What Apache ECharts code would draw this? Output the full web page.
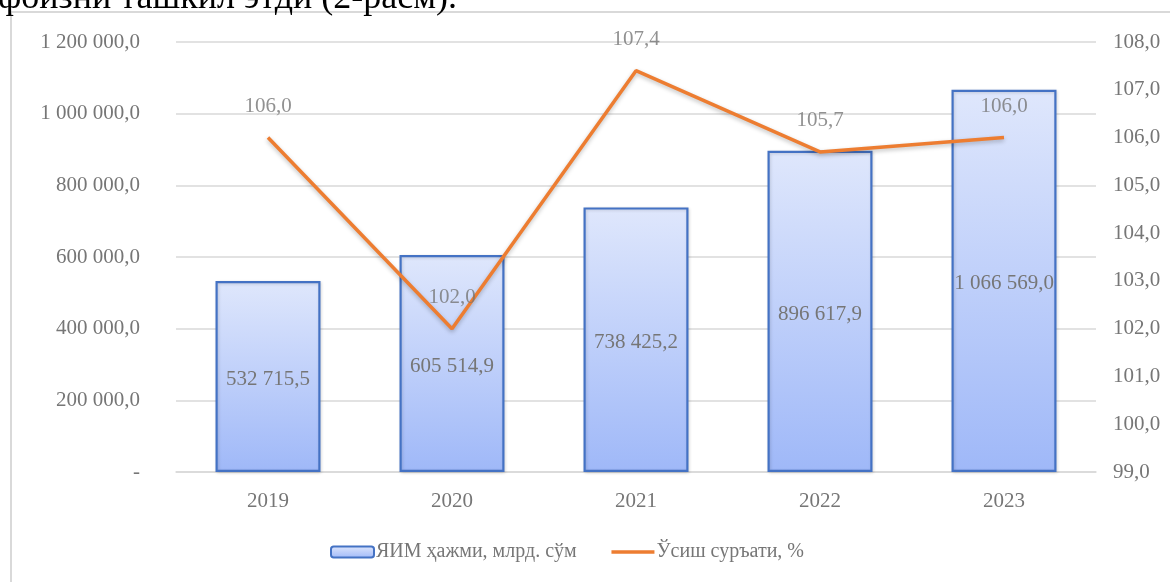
<!DOCTYPE html>
<html>
<head>
<meta charset="utf-8">
<script src="https://cdn.jsdelivr.net/npm/echarts@6/dist/echarts.min.js"></script>
<style>
html,body{margin:0;padding:0;background:#fff;}
#c{width:1170px;height:582px;}
</style>
</head>
<body>
<div id="c"></div>
<script>
const categories = ['2019', '2020', '2021', '2022', '2023'];
const gdpValues = [532715.5, 605514.9, 738425.2, 896617.9, 1066569.0];
const growthValues = [106.0, 102.0, 107.4, 105.7, 106.0];
const gdpName = 'ЯИМ ҳажми, млрд. сўм';
const growthName = 'Ўсиш суръати, %';
const captionText = 'фойзни ташкил этди (2-расм).';

const FONT = '"Liberation Serif", "Times New Roman", serif';
const GRAY = '#767676';

function fmt(v) {
  const s = Number(v).toFixed(1);
  const parts = s.split('.');
  const intPart = parts[0].replace(/\B(?=(\d{3})+(?!\d))/g, ' ');
  return intPart + ',' + parts[1];
}

const chart = echarts.init(document.getElementById('c'), null, {renderer: 'canvas'});
const barGradient = new echarts.graphic.LinearGradient(0, 0, 0, 1, [
  {offset: 0, color: '#dfe7fc'},
  {offset: 1, color: '#9fb8f8'}
]);

chart.setOption({
  animation: false,
  backgroundColor: '#ffffff',
  textStyle: {fontFamily: FONT},
  graphic: [
    {
      type: 'rect',
      shape: {x: 11, y: 12, width: 1300, height: 700},
      style: {fill: 'none', stroke: '#d9d9d9', lineWidth: 2},
      silent: true
    },
    {
      type: 'text',
      left: -2,
      top: -19,
      style: {text: captionText, font: '36px ' + FONT, fill: '#000000'},
      silent: true
    }
  ],
  grid: {left: 176, right: 74, top: 42, bottom: 110, containLabel: false},
  legend: {
    left: 325,
    top: 537,
    itemWidth: 43,
    itemHeight: 11,
    itemGap: 33,
    textStyle: {fontFamily: FONT, fontSize: 20, color: GRAY, padding: [0, 0, 0, -3]},
    data: [gdpName, {name: growthName, itemStyle: {opacity: 0}, lineStyle: {width: 3.5}}]
  },
  xAxis: {
    type: 'category',
    data: categories,
    axisLine: {lineStyle: {color: '#d9d9d9', width: 1.5}},
    axisTick: {show: false},
    axisLabel: {color: GRAY, fontSize: 21, fontFamily: FONT, margin: 19}
  },
  yAxis: [
    {
      type: 'value',
      min: 0, max: 1200000, interval: 200000,
      axisLine: {show: false},
      axisTick: {show: false},
      splitLine: {lineStyle: {color: '#d9d9d9', width: 1.5}},
      axisLabel: {
        color: GRAY, fontSize: 21, fontFamily: FONT, margin: 36,
        formatter: function (v) { return v === 0 ? '-' : fmt(v); }
      }
    },
    {
      type: 'value',
      min: 99, max: 108, interval: 1,
      axisLine: {show: false},
      axisTick: {show: false},
      splitLine: {show: false},
      axisLabel: {
        color: GRAY, fontSize: 21, fontFamily: FONT, margin: 17,
        formatter: function (v) { return fmt(v); }
      }
    }
  ],
  series: [
    {
      name: gdpName,
      type: 'bar',
      yAxisIndex: 0,
      data: gdpValues,
      barWidth: 105,
      itemStyle: {color: barGradient, borderColor: '#4472c4', borderWidth: 2.2,
        shadowColor: 'rgba(0,0,0,0.15)', shadowBlur: 3, shadowOffsetX: 1, shadowOffsetY: 1},
      label: {
        show: true, position: 'inside', offset: [0, 3], color: GRAY, fontSize: 21, fontFamily: FONT,
        formatter: function (p) { return fmt(p.value); }
      }
    },
    {
      name: growthName,
      type: 'line',
      yAxisIndex: 1,
      data: growthValues,
      symbol: 'none',
      lineStyle: {color: '#ed7d31', width: 3.5,
        shadowColor: 'rgba(0,0,0,0.25)', shadowBlur: 4, shadowOffsetY: 2},
      itemStyle: {color: '#ed7d31'},
      z: 5
    },
    {
      name: 'growthLabels',
      type: 'scatter',
      yAxisIndex: 1,
      data: growthValues,
      symbolSize: 0,
      silent: true,
      itemStyle: {color: 'rgba(0,0,0,0)'},
      label: {
        show: true, position: 'top', distance: 21, color: GRAY, fontSize: 21, fontFamily: FONT,
        formatter: function (p) { return fmt(p.value); }
      },
      z: 6
    }
  ]
});
</script>
</body>
</html>
